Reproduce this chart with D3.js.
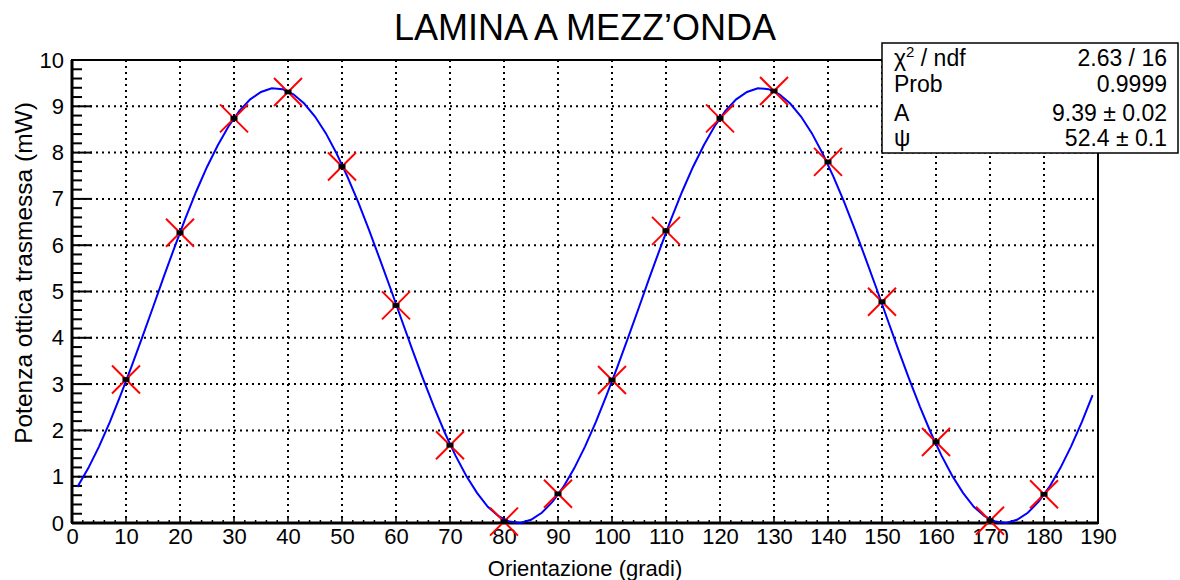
<!DOCTYPE html>
<html>
<head>
<meta charset="utf-8">
<script src="https://cdn.jsdelivr.net/npm/d3@7"></script>
<style>
  body { margin: 0; background: #fff; }
  text { font-family: "Liberation Sans", Arial, sans-serif; }
</style>
</head>
<body>
<script>
// MEASURED DATA
var angles = [10, 20, 30, 40, 50, 60, 70, 80, 90, 100, 110, 120, 130, 140, 150, 160, 170, 180];
var power = [3.10, 6.27, 8.74, 9.31, 7.70, 4.70, 1.68, 0.03, 0.63, 3.09, 6.31, 8.74, 9.33, 7.80, 4.78, 1.75, 0.05, 0.62];
var angleErr = 0.65;
var powerErr = 0.05;

// FIT CURVE (one point every 2 degrees from 1 to 189)
var fitAngles = d3.range(1, 190, 2);
var fitPower = [
  0.78, 1.18, 1.65, 2.18, 2.76, 3.37, 4.01, 4.66, 5.32, 5.96,
  6.58, 7.16, 7.69, 8.16, 8.57, 8.90, 9.15, 9.31, 9.39, 9.37,
  9.26, 9.06, 8.78, 8.42, 7.98, 7.48, 6.93, 6.33, 5.70, 5.06,
  4.40, 3.75, 3.12, 2.52, 1.96, 1.46, 1.02, 0.65, 0.35, 0.15,
  0.03, 0.00, 0.07, 0.22, 0.46,
  0.78, 1.18, 1.65, 2.18, 2.76, 3.37, 4.01, 4.66, 5.32, 5.96,
  6.58, 7.16, 7.69, 8.16, 8.57, 8.90, 9.15, 9.31, 9.39, 9.37,
  9.26, 9.06, 8.78, 8.42, 7.98, 7.48, 6.93, 6.33, 5.70, 5.06,
  4.40, 3.75, 3.12, 2.52, 1.96, 1.46, 1.02, 0.65, 0.35, 0.15,
  0.03, 0.00, 0.07, 0.22, 0.46,
  0.78, 1.18, 1.65, 2.18, 2.76
];

// STATS BOX
var statLabels = ["χ2 / ndf", "Prob", "A", "ψ"];
var statValues = ["2.63 / 16", "0.9999", "9.39 ± 0.02", "52.4 ± 0.1"];

var xTicks = d3.range(0, 200, 10);
var yTicks = d3.range(0, 11, 1);

// DIMENSIONS
var W = 1180, H = 580;
var margin = {top: 60, right: 82, bottom: 57, left: 72};
var width = W - margin.left - margin.right;
var height = H - margin.top - margin.bottom;

var svg = d3.select("body").append("svg")
    .attr("width", W)
    .attr("height", H);

var g = svg.append("g")
    .attr("transform", `translate(${margin.left}, ${margin.top})`);

var x = d3.scaleLinear().domain([0, 190]).range([0, width]);
var y = d3.scaleLinear().domain([0, 10]).range([height, 0]);

// GRID
g.append("g").selectAll("line")
    .data(xTicks.slice(1, -1))
    .enter().append("line")
    .attr("x1", d => x(d)).attr("x2", d => x(d))
    .attr("y1", 0).attr("y2", height)
    .attr("stroke", "#000").attr("stroke-width", 2)
    .attr("stroke-dasharray", "2,4");
g.append("g").selectAll("line")
    .data(yTicks.slice(1, -1))
    .enter().append("line")
    .attr("x1", 0).attr("x2", width)
    .attr("y1", d => y(d)).attr("y2", d => y(d))
    .attr("stroke", "#000").attr("stroke-width", 2)
    .attr("stroke-dasharray", "2,4");

// AXES
var xAxis = d3.axisBottom(x).tickValues(xTicks).tickSize(0).tickPadding(5);
var xg = g.append("g")
    .attr("transform", `translate(0, ${height})`)
    .call(xAxis);
xg.select(".domain").remove();
xg.selectAll("text").attr("font-size", 22).attr("fill", "#000");

// x minor and major ticks (short, pointing up)
var xMinor = d3.range(0, 190.01, 2);
g.append("g").selectAll("line")
    .data(xMinor)
    .enter().append("line")
    .attr("x1", d => x(d)).attr("x2", d => x(d))
    .attr("y1", height).attr("y2", d => height - (d % 10 === 0 ? 6 : 3))
    .attr("stroke", "#000").attr("stroke-width", 1.5);

var yAxis = d3.axisLeft(y).tickValues(yTicks).tickSize(0).tickPadding(8);
var yg = g.append("g").call(yAxis);
yg.select(".domain").remove();
yg.selectAll("text").attr("font-size", 22).attr("fill", "#000");

// y minor and major ticks (pointing right)
var yMinor = d3.range(0, 10.01, 0.2).map(d => +d.toFixed(1));
g.append("g").selectAll("line")
    .data(yMinor)
    .enter().append("line")
    .attr("x1", 0).attr("x2", d => (Math.abs(d - Math.round(d)) < 1e-6 ? 20 : 10))
    .attr("y1", d => y(d)).attr("y2", d => y(d))
    .attr("stroke", "#000").attr("stroke-width", 2);

// FRAME
g.append("rect")
    .attr("width", width).attr("height", height)
    .attr("fill", "none").attr("stroke", "#000").attr("stroke-width", 2);
g.append("line")
    .attr("x1", 0).attr("x2", width).attr("y1", height).attr("y2", height)
    .attr("stroke", "#000").attr("stroke-width", 3);
g.append("line")
    .attr("x1", 0).attr("x2", 0).attr("y1", 0).attr("y2", height)
    .attr("stroke", "#000").attr("stroke-width", 3);

// FIT LINE
var fitData = fitAngles.map((a, i) => ({a: a, p: fitPower[i]}));
g.append("path")
    .datum(fitData)
    .attr("fill", "none")
    .attr("stroke", "#0000ff")
    .attr("stroke-width", 2)
    .attr("d", d3.line().x(d => x(d.a)).y(d => y(d.p)));

// DATA POINTS
var pts = angles.map((a, i) => ({a: a, p: power[i]}));
var pg = g.append("g").selectAll("g")
    .data(pts)
    .enter().append("g")
    .attr("transform", d => `translate(${x(d.a)}, ${y(d.p)})`);

var s = 14;
pg.append("line").attr("x1", -s).attr("y1", -s).attr("x2", s).attr("y2", s)
    .attr("stroke", "#ff0000").attr("stroke-width", 2);
pg.append("line").attr("x1", -s).attr("y1", s).attr("x2", s).attr("y2", -s)
    .attr("stroke", "#ff0000").attr("stroke-width", 2);
pg.append("rect")
    .attr("x", x(-angleErr) - x(0))
    .attr("y", y(powerErr) - y(0))
    .attr("width", x(2 * angleErr) - x(0))
    .attr("height", y(0) - y(2 * powerErr))
    .attr("fill", "#000");

// TITLE
svg.append("text")
    .attr("x", 585).attr("y", 40)
    .attr("text-anchor", "middle")
    .attr("font-size", 36)
    .text("LAMINA A MEZZ’ONDA");

// AXIS LABELS
svg.append("text")
    .attr("x", margin.left + width / 2).attr("y", 576)
    .attr("text-anchor", "middle")
    .attr("font-size", 22)
    .text("Orientazione (gradi)");
svg.append("text")
    .attr("transform", "rotate(-90)")
    .attr("x", -273).attr("y", 32)
    .attr("text-anchor", "middle")
    .attr("font-size", 24.5)
    .text("Potenza ottica trasmessa (mW)");

// STATS BOX
var box = svg.append("g").attr("transform", "translate(882, 43)");
box.append("rect")
    .attr("width", 296).attr("height", 110)
    .attr("fill", "#fff").attr("stroke", "#000").attr("stroke-width", 1.5);
var rowY = [23, 49, 78, 103];
statLabels.forEach((lab, i) => {
    var t = box.append("text")
        .attr("x", 12).attr("y", rowY[i])
        .attr("font-size", 23);
    if (lab.indexOf("χ2") === 0) {
        t.append("tspan").text("χ");
        t.append("tspan").attr("font-size", 15).attr("dy", -9).text("2");
        t.append("tspan").attr("dy", 9).text(" / ndf");
    } else {
        t.text(lab);
    }
    box.append("text")
        .attr("x", 285).attr("y", rowY[i])
        .attr("text-anchor", "end")
        .attr("font-size", 23)
        .text(statValues[i]);
});
</script>
</body>
</html>
